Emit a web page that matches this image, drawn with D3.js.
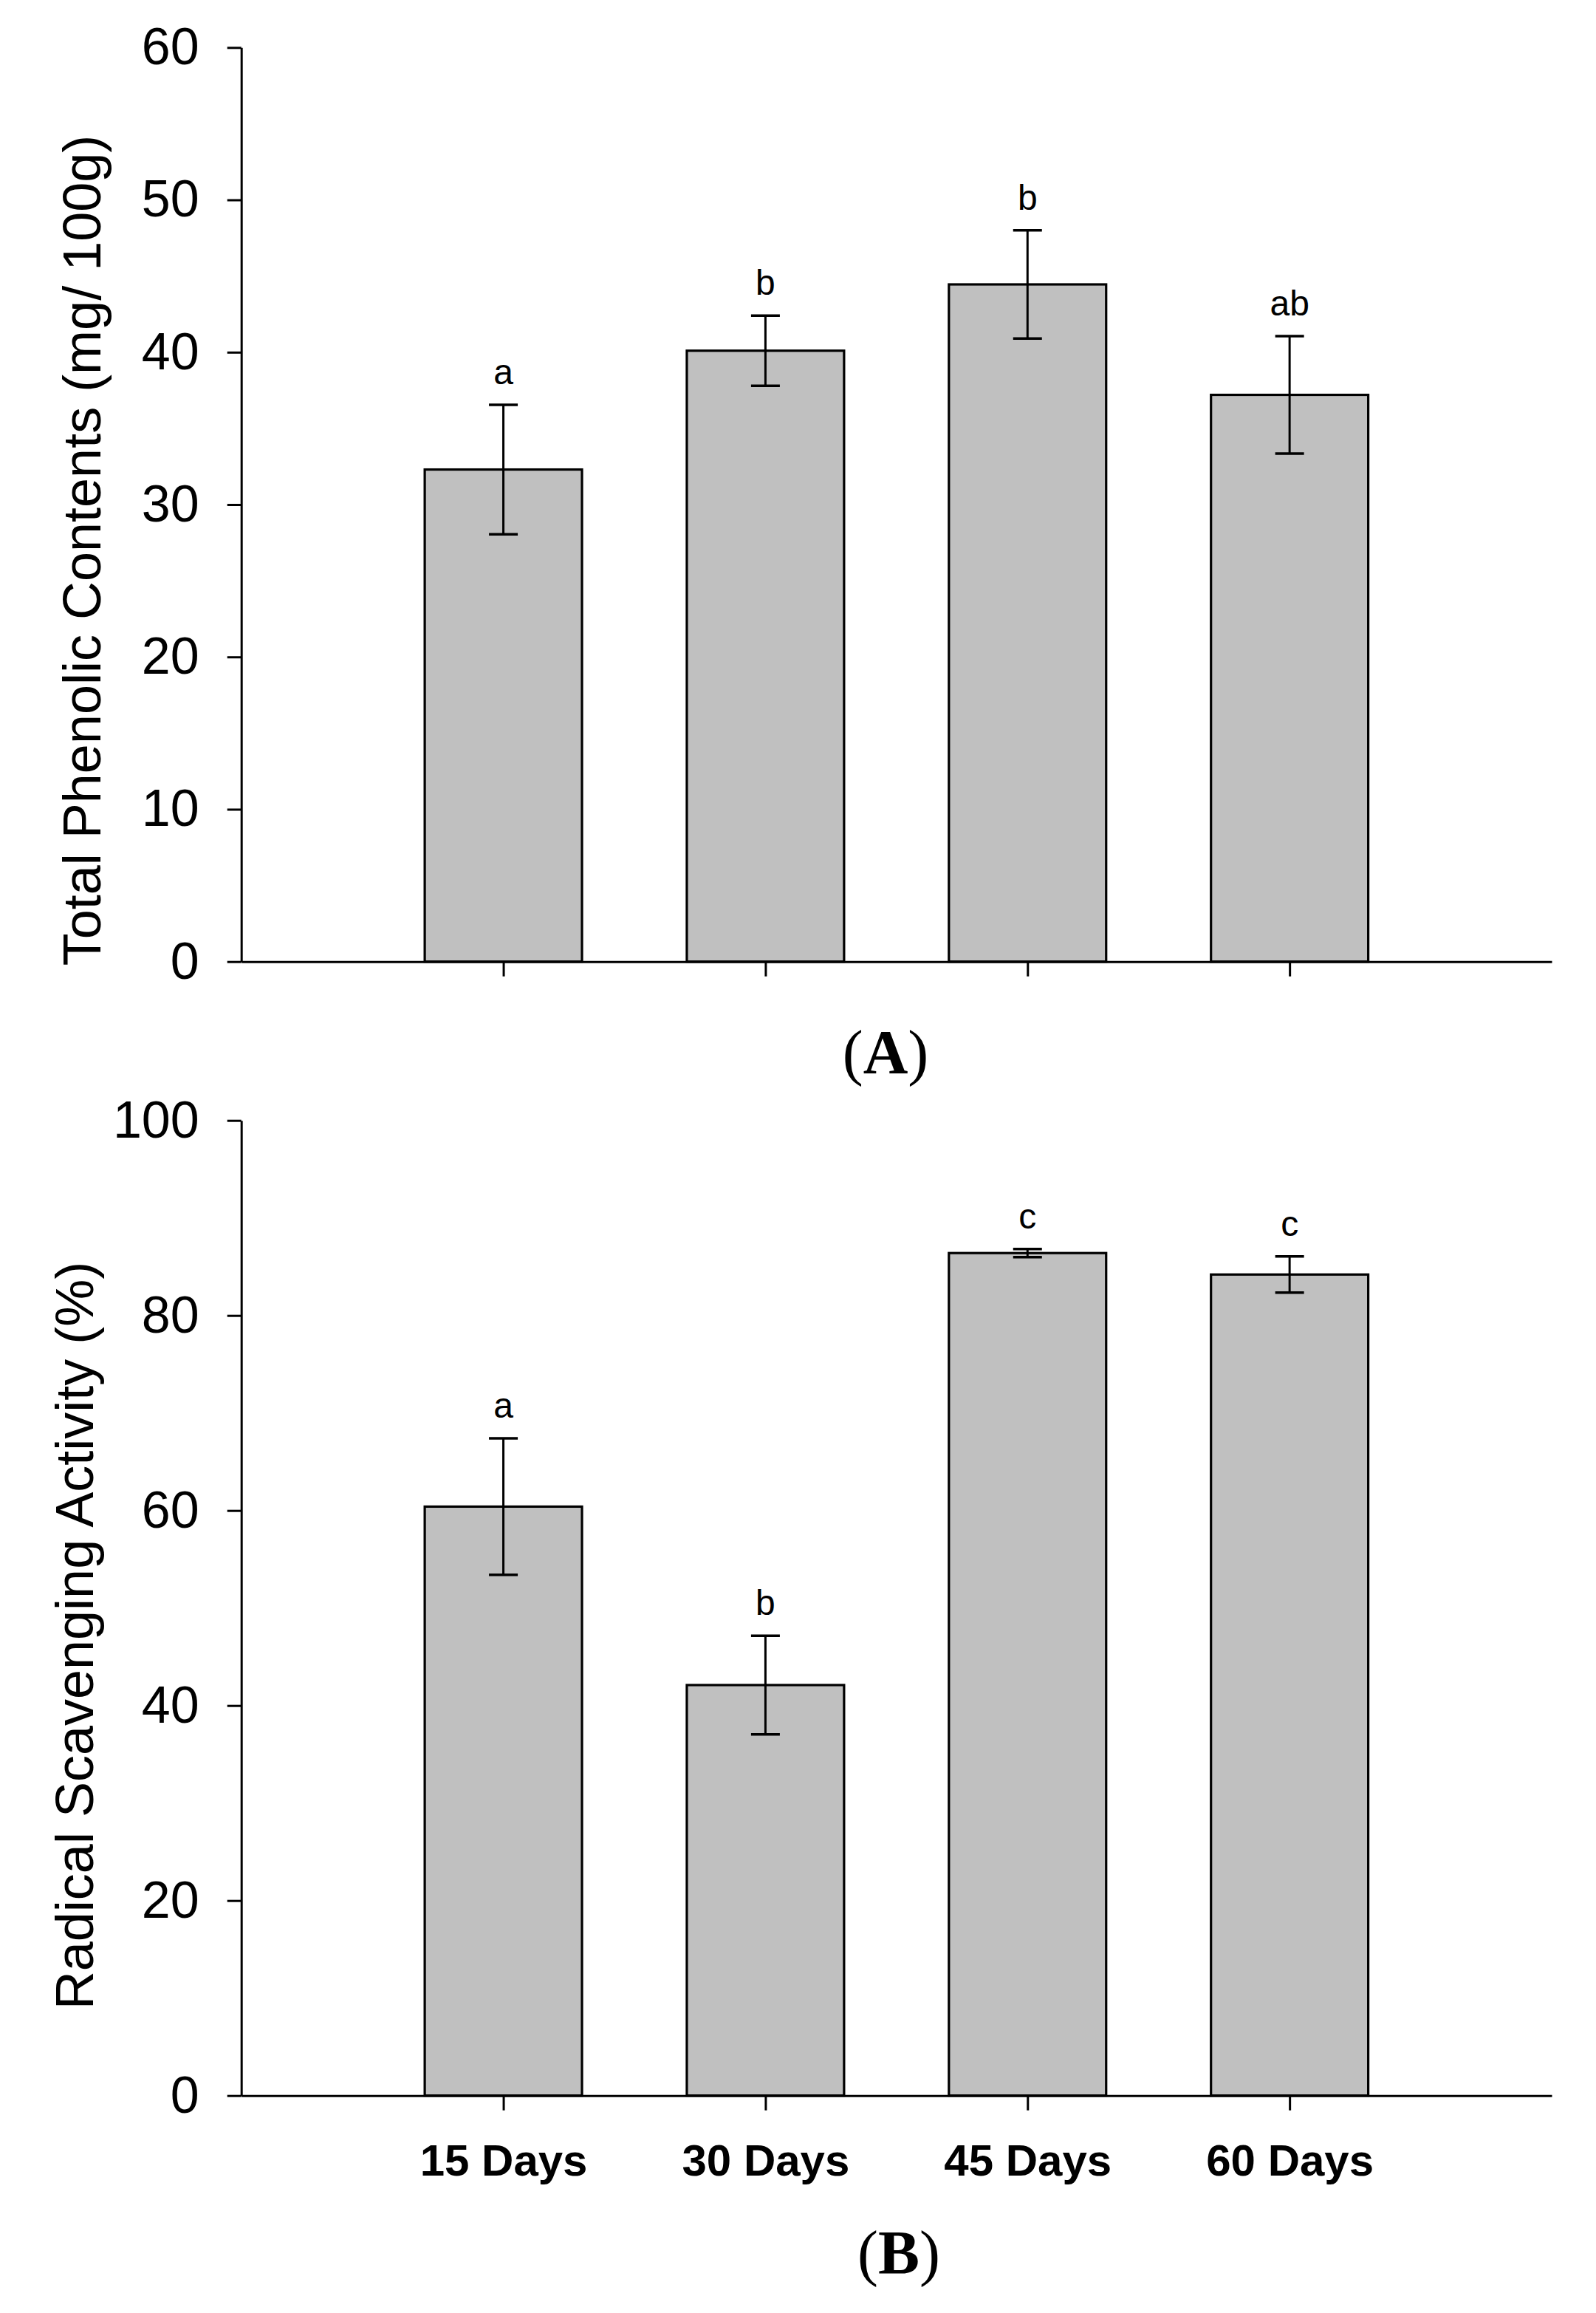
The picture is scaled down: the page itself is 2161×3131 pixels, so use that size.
<!DOCTYPE html>
<html>
<head>
<meta charset="utf-8">
<script src="https://cdn.jsdelivr.net/npm/d3@7"></script>
<style>
  html, body { margin: 0; padding: 0; background: #ffffff; }
  svg { display: block; }
</style>
</head>
<body>
<script>
// ---- data ----
const categories = ["15 Days", "30 Days", "45 Days", "60 Days"];

const phenolicMean = [32.3, 40.1, 44.45, 37.2];
const phenolicSE = [4.25, 2.3, 3.55, 3.85];
const phenolicLetters = ["a", "b", "b", "ab"];
const phenolicTicks = [0, 10, 20, 30, 40, 50, 60];

const scavMean = [60.4, 42.1, 86.4, 84.2];
const scavSE = [7.0, 5.05, 0.42, 1.86];
const scavLetters = ["a", "b", "c", "c"];
const scavTicks = [0, 20, 40, 60, 80, 100];

const panelLabels = ["A", "B"];
const yTitles = ["Total Phenolic Contents (mg/ 100g)", "Radical Scavenging Activity (%)"];

// ---- layout ----
const W = 2161, H = 3131;
const svg = d3.select("body").append("svg")
  .attr("width", W).attr("height", H)
  .attr("viewBox", `0 0 ${W} ${H}`);
svg.append("rect").attr("width", W).attr("height", H).attr("fill", "#ffffff");

const SANS = "'Liberation Sans', Arial, Helvetica, sans-serif";
const SERIF = "'Liberation Serif', 'Times New Roman', serif";

const xLeft = 326.7, xRight = 2101;

function drawPanel(opts) {
  const { top, bottom, yMax, ticks, means, ses, letters, showXLabels,
          title, titleX, titleY, label, labelX, labelY } = opts;

  const x = d3.scalePoint().domain(categories).range([xLeft, xRight]).padding(1);
  const y = d3.scaleLinear().domain([0, yMax]).range([bottom, top]);
  const barW = x.step() * 0.6;

  const g = svg.append("g");

  // bars
  g.selectAll("rect.bar").data(categories).enter().append("rect")
    .attr("class", "bar")
    .attr("x", d => x(d) - barW / 2)
    .attr("y", (d, i) => y(means[i]))
    .attr("width", barW)
    .attr("height", (d, i) => y(0) - y(means[i]))
    .attr("fill", "#c0c0c0")
    .attr("stroke", "#000")
    .attr("stroke-width", 3.2);

  // error bars
  const capW = 39;
  const eb = g.selectAll("g.err").data(categories).enter().append("g").attr("class", "err");
  eb.append("line")
    .attr("x1", d => x(d)).attr("x2", d => x(d))
    .attr("y1", (d, i) => y(means[i] + ses[i]))
    .attr("y2", (d, i) => y(means[i] - ses[i]))
    .attr("stroke", "#000").attr("stroke-width", 3);
  eb.append("line")
    .attr("x1", d => x(d) - capW / 2).attr("x2", d => x(d) + capW / 2)
    .attr("y1", (d, i) => y(means[i] + ses[i]))
    .attr("y2", (d, i) => y(means[i] + ses[i]))
    .attr("stroke", "#000").attr("stroke-width", 3.5);
  eb.append("line")
    .attr("x1", d => x(d) - capW / 2).attr("x2", d => x(d) + capW / 2)
    .attr("y1", (d, i) => y(means[i] - ses[i]))
    .attr("y2", (d, i) => y(means[i] - ses[i]))
    .attr("stroke", "#000").attr("stroke-width", 3.5);

  // significance letters
  g.selectAll("text.sig").data(categories).enter().append("text")
    .attr("class", "sig")
    .attr("x", d => x(d))
    .attr("y", (d, i) => y(means[i] + ses[i]) - 28)
    .attr("text-anchor", "middle")
    .attr("font-family", SANS)
    .attr("font-size", 48)
    .attr("fill", "#000")
    .text((d, i) => letters[i]);

  // y axis
  const yAxis = d3.axisLeft(y).tickValues(ticks).tickSize(19).tickSizeOuter(0).tickPadding(38)
    .tickFormat(d3.format("d"));
  const ya = g.append("g").attr("transform", `translate(${xLeft},0)`).call(yAxis);
  ya.select(".domain").attr("stroke", "#000").attr("stroke-width", 3);
  ya.selectAll(".tick line").attr("stroke", "#000").attr("stroke-width", 3);
  ya.selectAll(".tick text").attr("font-family", SANS).attr("font-size", 70).attr("fill", "#000");

  // x axis
  const xAxis = d3.axisBottom(x).tickSize(20).tickSizeOuter(0).tickPadding(46);
  const xa = g.append("g").attr("transform", `translate(0,${bottom})`).call(xAxis);
  xa.select(".domain").attr("stroke", "#000").attr("stroke-width", 3);
  xa.selectAll(".tick line").attr("stroke", "#000").attr("stroke-width", 3);
  xa.selectAll(".tick text")
    .attr("font-family", SANS).attr("font-size", 60).attr("font-weight", "bold").attr("fill", "#000")
    .style("display", showXLabels ? null : "none");

  // y title
  g.append("text")
    .attr("transform", `translate(${titleX},${titleY}) rotate(-90)`)
    .attr("text-anchor", "middle")
    .attr("font-family", SANS)
    .attr("font-size", 72)
    .attr("fill", "#000")
    .text(title);

  // panel label: thin parentheses, bold letter
  const pl = g.append("text")
    .attr("x", labelX).attr("y", labelY)
    .attr("text-anchor", "middle")
    .attr("font-family", SERIF)
    .attr("font-size", 84)
    .attr("fill", "#000");
  pl.append("tspan").text("(");
  pl.append("tspan").attr("font-weight", "bold").text(label);
  pl.append("tspan").text(")");
}

drawPanel({
  top: 64.3, bottom: 1301.7, yMax: 60, ticks: phenolicTicks,
  means: phenolicMean, ses: phenolicSE, letters: phenolicLetters, showXLabels: false,
  title: yTitles[0], titleX: 136, titleY: 745,
  label: panelLabels[0], labelX: 1199, labelY: 1453
});

drawPanel({
  top: 1516.7, bottom: 2836.7, yMax: 100, ticks: scavTicks,
  means: scavMean, ses: scavSE, letters: scavLetters, showXLabels: true,
  title: yTitles[1], titleX: 126, titleY: 2214,
  label: panelLabels[1], labelX: 1217, labelY: 3078
});
</script>
</body>
</html>
